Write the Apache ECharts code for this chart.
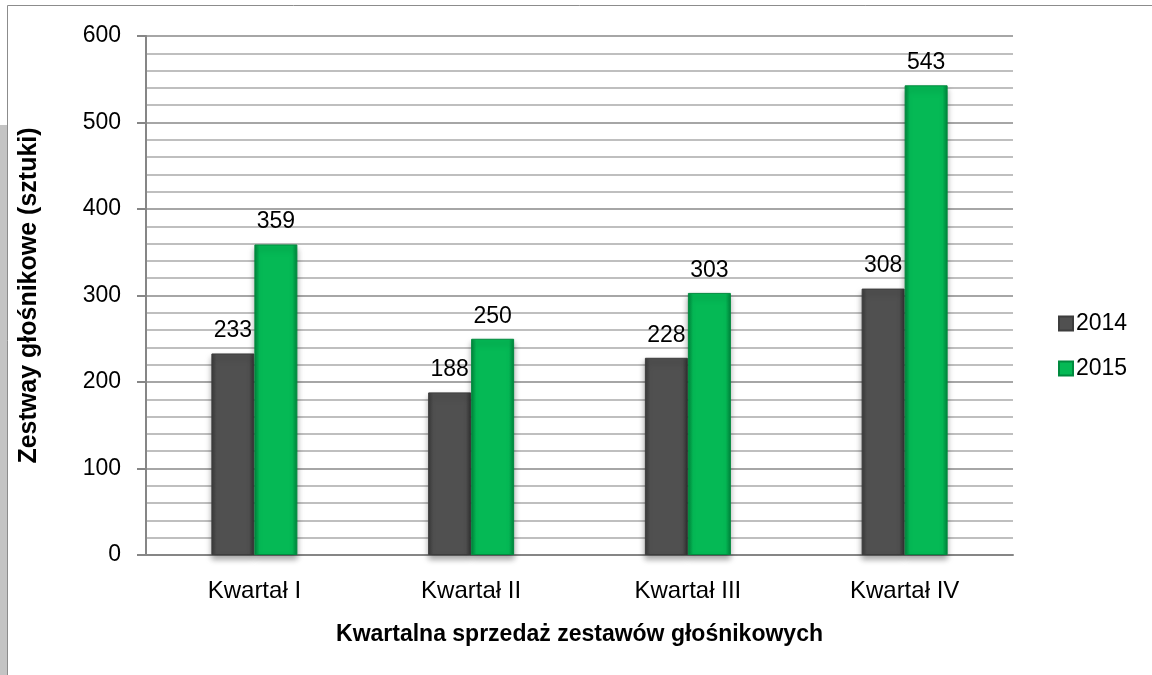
<!DOCTYPE html>
<html>
<head>
<meta charset="utf-8">
<script src="https://cdn.jsdelivr.net/npm/echarts@6/dist/echarts.min.js"></script>
<style>
html,body{margin:0;padding:0;background:#fff;}
#chart{width:1152px;height:675px;}
</style>
</head>
<body>
<div id="chart"></div>
<script>
var kwartaly = ['Kwartał I', 'Kwartał II', 'Kwartał III', 'Kwartał IV'];
var lata = ['2014', '2015'];
var sprzedaz2014 = [233, 188, 228, 308];
var sprzedaz2015 = [359, 250, 303, 543];

var myChart = echarts.init(document.getElementById('chart'));

// gradient dla efektu fazowania słupków
function bevel(edge, mid) {
	return new echarts.graphic.LinearGradient(0, 0, 1, 0, [
		{offset: 0, color: edge},
		{offset: 0.12, color: mid},
		{offset: 0.88, color: mid},
		{offset: 1, color: edge}
	]);
}

var font = 'Liberation Sans';

option = {
	animation: false,
	textStyle: {fontFamily: font},
	graphic: [
		{type: 'rect', shape: {x: 0, y: 125, width: 7, height: 550}, style: {fill: '#c4c4c4'}, silent: true},
		{type: 'polyline', shape: {points: [[7.5, 675], [7.5, 5.5], [1152, 5.5]]}, style: {stroke: '#8c8c8c', lineWidth: 1, fill: null}, silent: true}
	],
	legend: {
		orient: 'vertical',
		left: 1053,
		top: 307,
		itemGap: 22,
		itemWidth: 14,
		itemHeight: 14,
		icon: 'rect',
		textStyle: {fontSize: 23, color: '#000', fontFamily: font, padding: [0, 0, 0, -2]},
		data: lata
	},
	grid: {
		left: 146,
		right: 139,
		top: 36,
		bottom: 120,
		containLabel: false
	},
	xAxis: {
		type: 'category',
		data: kwartaly,
		name: 'Kwartalna sprzedaż zestawów głośnikowych',
		nameLocation: 'middle',
		nameGap: 68,
		nameTextStyle: {fontSize: 23, fontWeight: 'bold', color: '#000', fontFamily: font},
		axisLine: {lineStyle: {color: '#868686', width: 2}},
		axisTick: {show: false},
		axisLabel: {fontSize: 24, color: '#000', margin: 24}
	},
	yAxis: {
		type: 'value',
		min: 0,
		max: 600,
		interval: 100,
		name: 'Zestway głośnikowe (sztuki)',
		nameLocation: 'middle',
		nameGap: 104,
		nameTextStyle: {fontSize: 25, fontWeight: 'bold', color: '#000', fontFamily: font},
		axisLine: {show: true, lineStyle: {color: '#868686', width: 2}},
		axisTick: {show: true, length: 9, lineStyle: {color: '#868686', width: 2}},
		axisLabel: {fontSize: 23, color: '#000', margin: 25},
		splitLine: {lineStyle: {color: '#a6a6a6', width: 2}},
		minorTick: {show: false, splitNumber: 5},
		minorSplitLine: {show: true, lineStyle: {color: '#bfbfbf', width: 2}}
	},
	series: [
		{
			name: lata[0],
			type: 'bar',
			data: sprzedaz2014,
			barWidth: 43,
			barGap: '0%',
			itemStyle: {
				color: bevel('#3a3a3a', '#505050'),
				borderColor: '#3d3d3d',
				borderWidth: 1,
				shadowColor: 'rgba(0,0,0,0.35)',
				shadowBlur: 6,
				shadowOffsetY: 4
			},
			label: {show: true, position: 'top', distance: 11, fontSize: 23, color: '#000'}
		},
		{
			name: lata[1],
			type: 'bar',
			data: sprzedaz2015,
			barWidth: 43,
			itemStyle: {
				color: bevel('#00853c', '#05b955'),
				borderColor: '#008a3e',
				borderWidth: 1,
				shadowColor: 'rgba(0,0,0,0.35)',
				shadowBlur: 6,
				shadowOffsetY: 4
			},
			label: {show: true, position: 'top', distance: 11, fontSize: 23, color: '#000'}
		}
	]
};

myChart.setOption(option);
</script>
</body>
</html>
